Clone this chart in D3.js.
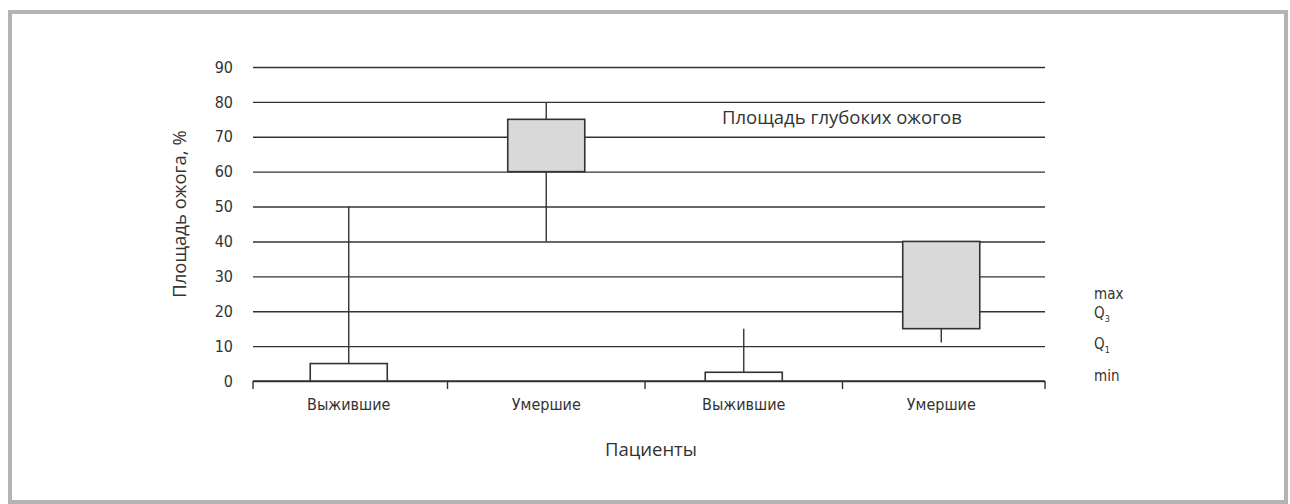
<!DOCTYPE html>
<html>
  <head>
    <meta charset="utf-8">
    <title></title>
    <script type="text/javascript" src="https://d3js.org/d3.v7.min.js"></script>
    <style media="screen">
      body { margin: 0; background: #fff; }
      .axis text { font-family: "Liberation Sans Narrow", "DejaVu Sans Condensed", sans-serif; fill: #333; }
      .lbl { font-family: "Open Sans", sans-serif; fill: #333; }
    </style>
  </head>
  <body>
    <div class="vis">
    </div>
    <script type="text/javascript">
      // data
      var groups = ["Выжившие", "Умершие", "Выжившие", "Умершие"];
      var mins = [0, 40, 0, 11];
      var q1s = [0, 60, 0, 15];
      var q3s = [5, 75, 2.5, 40];
      var maxs = [50, 80, 15, 40];
      var yTicks = [0, 10, 20, 30, 40, 50, 60, 70, 80, 90];
      var legendItems = [["max", ""], ["Q", "3"], ["Q", "1"], ["min", ""]];

      var w = 1290;
      var h = 504;
      var plotLeft = 253, plotRight = 1045, plotTop = 67, plotBottom = 381;

      var boxes = groups.map(function(g, i) {
        return {key: i, name: g, min: mins[i], q1: q1s[i], q3: q3s[i], max: maxs[i]};
      });

      var svg = d3.select('.vis')
        .append('svg')
        .attr('width', w)
        .attr('height', h);

      // frame
      svg.append('rect')
        .attr('x', 10).attr('y', 12)
        .attr('width', 1276).attr('height', 490)
        .attr('fill', 'none')
        .attr('stroke', '#b4b4b4')
        .attr('stroke-width', 4);

      // boxes sit a little left of the grid centre in the scan
      var xscale = d3.scaleBand()
        .domain(boxes.map(function(d){ return d.key; }))
        .range([plotLeft - 3, plotRight - 5]);
      var yscale = d3.scaleLinear()
        .domain([0, 90])
        .range([plotBottom, plotTop]);

      // grid + labels
      var yAxis = d3.axisLeft(yscale)
        .tickValues(yTicks)
        .tickSize(-(plotRight - plotLeft))
        .tickPadding(20);
      var gy = svg.append('g')
        .attr('class', 'axis')
        .attr('transform', 'translate(' + plotLeft + ',0)')
        .call(yAxis);
      gy.select('.domain').remove();
      gy.selectAll('line').attr('stroke', '#333').attr('stroke-width', 1.4);
      gy.selectAll('text').attr('font-size', 16);

      // x axis with ticks at band edges
      var xAxis = d3.axisBottom(xscale)
        .tickSize(0)
        .tickPadding(18)
        .tickFormat(function(k){ return groups[k]; });
      var gx = svg.append('g')
        .attr('class', 'axis')
        .attr('transform', 'translate(0,' + plotBottom + ')')
        .call(xAxis);
      gx.select('.domain')
        .attr('d', 'M' + plotLeft + ',0H' + plotRight)
        .attr('stroke', '#333').attr('stroke-width', 1.4);
      gx.selectAll('text').attr('font-size', 16);
      var edges = [plotLeft].concat(xscale.domain().slice(1).map(function(k){ return xscale(k); }), [plotRight]);
      gx.selectAll('.edge')
        .data(edges)
        .enter()
        .append('line')
        .attr('x1', function(d){ return d; })
        .attr('x2', function(d){ return d; })
        .attr('y1', 0).attr('y2', 8)
        .attr('stroke', '#333')
        .attr('stroke-width', 1.4);

      // boxes
      var bw = xscale.bandwidth() * 0.39;
      var g = svg.selectAll('.box')
        .data(boxes)
        .enter()
        .append('g')
        .attr('class', 'box');
      g.append('line')
        .attr('x1', function(d){ return xscale(d.key) + xscale.bandwidth() / 2; })
        .attr('x2', function(d){ return xscale(d.key) + xscale.bandwidth() / 2; })
        .attr('y1', function(d){ return yscale(d.min); })
        .attr('y2', function(d){ return yscale(d.max); })
        .attr('stroke', '#333')
        .attr('stroke-width', 1.4);
      g.append('rect')
        .attr('x', function(d){ return xscale(d.key) + (xscale.bandwidth() - bw) / 2; })
        .attr('y', function(d){ return yscale(d.q3); })
        .attr('width', bw)
        .attr('height', function(d){ return yscale(d.q1) - yscale(d.q3); })
        .attr('fill', function(d){ return d.name == "Умершие" ? '#d9d9d9' : '#fff'; })
        .attr('stroke', '#333')
        .attr('stroke-width', 1.6);

      // titles
      svg.append('text')
        .attr('class', 'lbl')
        .attr('transform', 'translate(186,214) rotate(-90)')
        .attr('text-anchor', 'middle')
        .attr('font-size', 18.5)
        .text('Площадь ожога, %');
      svg.append('text')
        .attr('class', 'lbl')
        .attr('x', 651).attr('y', 456)
        .attr('text-anchor', 'middle')
        .attr('font-size', 18.5)
        .text('Пациенты');
      svg.append('text')
        .attr('class', 'lbl')
        .attr('x', 722).attr('y', 124)
        .attr('font-size', 18.5)
        .text('Площадь глубоких ожогов');

      // legend on the right
      var leg = svg.selectAll('.leg')
        .data(legendItems)
        .enter()
        .append('text')
        .attr('x', 1094)
        .attr('y', function(d, i){ return [299, 318, 349, 381][i]; })
        .attr('font-family', '"Liberation Sans Narrow", "DejaVu Sans Condensed", sans-serif')
        .attr('font-size', 15)
        .attr('fill', '#333');
      leg.append('tspan').text(function(d){ return d[0]; });
      leg.append('tspan')
        .attr('font-size', 9)
        .attr('dy', 4)
        .text(function(d){ return d[1]; });
    </script>
  </body>
</html>
